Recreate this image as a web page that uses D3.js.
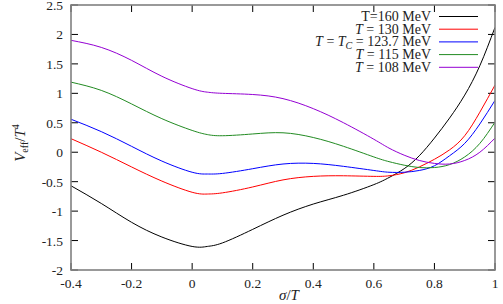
<!DOCTYPE html>
<html><head><meta charset="utf-8">
<script src="https://cdn.jsdelivr.net/npm/d3@7"></script>
<style>body{margin:0;background:#fff}svg{display:block}text{font-family:"Liberation Serif","DejaVu Serif",serif;fill:#222}</style>
</head><body><svg id="c" width="503" height="304"></svg>
<script>
const sigma = [-0.4,-0.3,-0.2,-0.1,0,0.05,0.1,0.2,0.3,0.4,0.5,0.6,0.65,0.7,0.75,0.8,0.85,0.9,0.95,1.0];
const vT160 = [-0.57,-0.87,-1.19,-1.44,-1.60,-1.60,-1.54,-1.31,-1.07,-0.88,-0.73,-0.55,-0.43,-0.28,-0.06,0.24,0.58,0.97,1.47,2.12];
const vT130 = [0.23,0.0,-0.25,-0.49,-0.68,-0.71,-0.69,-0.59,-0.47,-0.41,-0.40,-0.41,-0.40,-0.35,-0.25,-0.12,0.04,0.28,0.68,1.14];
const vTc = [0.56,0.35,0.10,-0.15,-0.34,-0.37,-0.36,-0.28,-0.20,-0.19,-0.24,-0.31,-0.34,-0.34,-0.31,-0.23,-0.06,0.15,0.48,0.88];
const vT115 = [1.19,1.05,0.82,0.57,0.37,0.30,0.28,0.31,0.33,0.25,0.10,-0.08,-0.16,-0.22,-0.26,-0.26,-0.21,-0.08,0.15,0.51];
const vT108 = [1.90,1.78,1.56,1.29,1.08,1.02,1.00,0.98,0.91,0.74,0.50,0.22,0.07,-0.05,-0.14,-0.19,-0.20,-0.14,0.00,0.24];
const xTicks = [-0.4,-0.2,0,0.2,0.4,0.6,0.8,1];
const xTickLabels = ["-0.4","-0.2","0","0.2","0.4","0.6","0.8","1"];
const yTicks = [-2,-1.5,-1,-0.5,0,0.5,1,1.5,2,2.5];
const yTickLabels = ["-2","-1.5","-1","-0.5","0","0.5","1","1.5","2","2.5"];
const seriesColors = ["#000000","#ff0000","#0000ff","#228b22","#9400d3"];
const seriesValues = [vT160,vT130,vTc,vT115,vT108];

const L=71,R=495,T=5,B=270;
const svg=d3.select("#c");
const x=d3.scaleLinear().domain([-0.4,1]).range([L,R]);
const y=d3.scaleLinear().domain([-2,2.5]).range([B,T]);

svg.append("clipPath").attr("id","clip").append("rect").attr("x",L).attr("y",T).attr("width",R-L).attr("height",B-T);

const tk=7, tfs=13.5;
const g=svg.append("g");
xTicks.forEach(t=>{
  g.append("line").attr("x1",x(t)).attr("x2",x(t)).attr("y1",B).attr("y2",B-tk).attr("stroke","#000");
  g.append("line").attr("x1",x(t)).attr("x2",x(t)).attr("y1",T).attr("y2",T+tk).attr("stroke","#000");
});
yTicks.forEach(t=>{
  g.append("line").attr("y1",y(t)).attr("y2",y(t)).attr("x1",L).attr("x2",L+tk).attr("stroke","#000");
  g.append("line").attr("y1",y(t)).attr("y2",y(t)).attr("x1",R).attr("x2",R-tk).attr("stroke","#000");
});
xTicks.forEach((t,i)=>{
  g.append("text").attr("x",x(t)).attr("y",B+18).attr("text-anchor","middle").attr("font-size",tfs).text(xTickLabels[i]);
});
yTicks.forEach((t,i)=>{
  g.append("text").attr("x",L-8).attr("y",y(t)+5).attr("text-anchor","end").attr("font-size",tfs).text(yTickLabels[i]);
});

const line=d3.line().x(d=>x(d[0])).y(d=>y(d[1])).curve(d3.curveNatural);
const cg=svg.append("g").attr("clip-path","url(#clip)");
seriesValues.forEach((vals,i)=>{
  cg.append("path").datum(sigma.map((s,j)=>[s,vals[j]])).attr("d",line)
    .attr("fill","none").attr("stroke",seriesColors[i]).attr("stroke-width",1);
});

svg.append("rect").attr("x",L).attr("y",T).attr("width",R-L).attr("height",B-T)
  .attr("fill","none").attr("stroke","#808080").attr("stroke-width",1.6);

const lx=431, ly0=16.5, dy=12.7, fs=14;
const legendParts=[
  [["T=160 MeV",""]],
  [["T","i"],[" = 130 MeV",""]],
  [["T","i"],[" = ",""],["T","i"],["C","sub"],[" = 123.7 MeV","up"]],
  [["T","i"],[" = 115 MeV",""]],
  [["T","i"],[" = 108 MeV",""]]
];
legendParts.forEach((parts,i)=>{
  const yy=ly0+i*dy;
  const t=svg.append("text").attr("x",lx).attr("y",yy+4.5).attr("text-anchor","end").attr("font-size",fs);
  parts.forEach(p=>{
    const s=t.append("tspan").text(p[0]);
    if(p[1]==="i") s.attr("font-style","italic");
    if(p[1]==="sub") s.attr("font-style","italic").attr("font-size",fs*0.72).attr("dy",3);
    if(p[1]==="up") s.attr("dy",-3);
  });
  svg.append("line").attr("x1",439).attr("x2",478).attr("y1",yy).attr("y2",yy)
    .attr("stroke",seriesColors[i]).attr("stroke-width",1);
});

const yl=svg.append("text").attr("transform","translate(25,143) rotate(-90)").attr("text-anchor","middle").attr("font-size",15);
yl.append("tspan").attr("font-style","italic").text("V");
yl.append("tspan").attr("font-size",10).attr("dy",3).text("eff");
yl.append("tspan").attr("dy",-3).text("/");
yl.append("tspan").attr("font-style","italic").text("T");
yl.append("tspan").attr("font-size",10).attr("dy",-6).text("4");

const xl=svg.append("text").attr("x",289).attr("y",300).attr("text-anchor","middle").attr("font-size",15);
xl.append("tspan").attr("font-style","italic").text("σ");
xl.append("tspan").text("/");
xl.append("tspan").attr("font-style","italic").text("T");
</script></body></html>
